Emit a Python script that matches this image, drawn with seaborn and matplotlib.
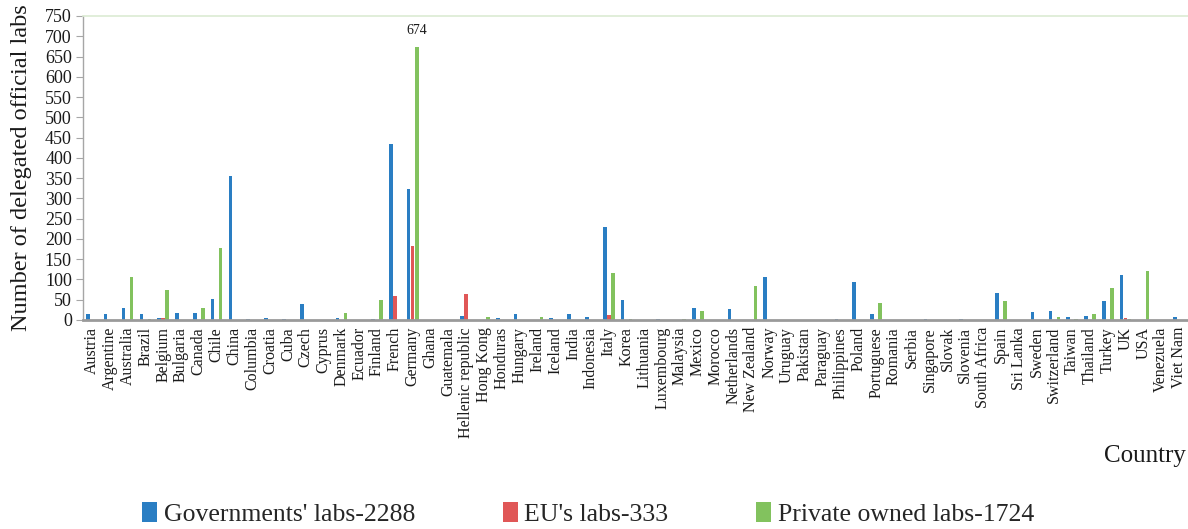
import matplotlib
matplotlib.use("Agg")
import matplotlib.pyplot as plt
import seaborn as sns
import pandas as pd

countries = ["Austria", "Argentine", "Australia", "Brazil", "Belgium", "Bulgaria", "Canada",
             "Chile", "China", "Columbia", "Croatia", "Cuba", "Czech", "Cyprus", "Denmark",
             "Ecuador", "Finland", "French", "Germany", "Ghana", "Guatemala", "Hellenic republic",
             "Hong Kong", "Honduras", "Hungary", "Ireland", "Iceland", "India", "Indonesia",
             "Italy", "Korea", "Lithuania", "Luxembourg", "Malaysia", "Mexico", "Morocco",
             "Netherlands", "New Zealand", "Norway", "Uruguay", "Pakistan", "Paraguay",
             "Philippines", "Poland", "Portuguese", "Romania", "Serbia", "Singapore", "Slovak",
             "Slovenia", "South Africa", "Spain", "Sri Lanka", "Sweden", "Switzerland",
             "Taiwan", "Thailand", "Turkey", "UK", "USA", "Venezuela", "Viet Nam"]

government = [16, 14, 30, 14, 5, 17, 17, 52, 356, 2, 6, 2, 39, 0, 6,
              0, 2, 433, 322, 0, 0, 11, 0, 5, 14, 1, 4, 15, 7,
              229, 50, 0, 2, 0, 29, 1, 26, 0, 106, 1, 0, 0,
              3, 94, 14, 0, 0, 2, 0, 2, 0, 66, 1, 20, 21,
              7, 10, 47, 111, 1, 0, 7]

eu = [0, 0, 0, 0, 6, 0, 0, 0, 0, 0, 0, 0, 0, 0, 0,
      0, 0, 58, 183, 0, 0, 64, 0, 0, 0, 0, 0, 0, 0,
      12, 0, 0, 1, 0, 0, 0, 0, 0, 0, 0, 0, 0,
      0, 0, 0, 0, 0, 0, 0, 0, 0, 0, 0, 0, 0,
      0, 0, 0, 4, 0, 0, 0]

private = [0, 0, 106, 2, 73, 0, 30, 177, 0, 0, 0, 0, 1, 0, 17,
           0, 49, 0, 674, 0, 0, 0, 7, 0, 0, 8, 1, 0, 0,
           117, 2, 0, 0, 2, 22, 0, 1, 84, 0, 0, 0, 0,
           0, 0, 41, 0, 0, 0, 0, 0, 1, 47, 0, 0, 8,
           3, 15, 80, 3, 121, 0, 1]

series_names = ["Governments' labs-2288", "EU's labs-333", "Private owned labs-1724"]
colors = ["#2a7ec3", "#e05757", "#82c25e"]

df = pd.DataFrame({
    "Country": countries * 3,
    "Type": [series_names[0]] * len(countries) + [series_names[1]] * len(countries)
            + [series_names[2]] * len(countries),
    "Labs": government + eu + private,
})

sns.set_style("white")
plt.rcParams["font.family"] = ["Liberation Serif", "DejaVu Serif"]

fig = plt.figure(figsize=(11.88, 5.29), dpi=100)
ax = fig.add_axes([83 / 1188, 209 / 529, 1 - 83 / 1188, (320 - 16) / 529])

sns.barplot(data=df, x="Country", y="Labs", hue="Type", order=countries,
            hue_order=series_names, palette=colors, width=0.68, gap=0.12,
            saturation=1, edgecolor="none", ax=ax)

ax.set_ylim(0, 750)
ax.set_yticks(range(0, 751, 50))
ax.set_xlim(-0.5, len(countries) - 0.5)
ax.tick_params(axis="y", labelsize=13, length=5, width=0.8, color="#a6a6a6",
               direction="out", left=True, pad=3, labelcolor="#1a1a1a")
ax.tick_params(axis="x", labelsize=11.5, length=0, pad=5, labelcolor="#1a1a1a")
for lbl in ax.get_xticklabels():
    lbl.set_rotation(90)

ax.spines["right"].set_visible(False)
ax.spines["top"].set_visible(True)
ax.spines["top"].set_color("#dcebd3")
ax.spines["top"].set_linewidth(1.2)
ax.spines["left"].set_color("#a6a6a6")
ax.spines["left"].set_linewidth(1.0)
ax.spines["bottom"].set_color("#9a9a9a")
ax.spines["bottom"].set_linewidth(2.0)

ax.set_xlabel("")
ax.set_ylabel("Number of delegated official labs", fontsize=17.5, color="#1a1a1a",
              labelpad=9)

# Value label for the tallest bar
g_idx = countries.index("Germany")
ax.annotate(str(private[g_idx]), xy=(g_idx + 0.227, private[g_idx]),
            xytext=(0, 7), textcoords="offset points", ha="center", va="bottom",
            fontsize=10, color="#1a1a1a")

fig.text(1145 / 1188, 1 - 456 / 529, "Country", ha="center", va="center",
         fontsize=18, color="#1a1a1a")

handles, labels = ax.get_legend_handles_labels()
ax.get_legend().remove()
fig.legend(handles, labels, loc="center", bbox_to_anchor=(588 / 1188, 1 - 514 / 529),
           ncol=3, frameon=False, fontsize=18.5, handlelength=0.6, handleheight=0.8,
           handletextpad=0.25, columnspacing=3.4, borderaxespad=0, borderpad=0)

fig.savefig("out.png", dpi=100)
